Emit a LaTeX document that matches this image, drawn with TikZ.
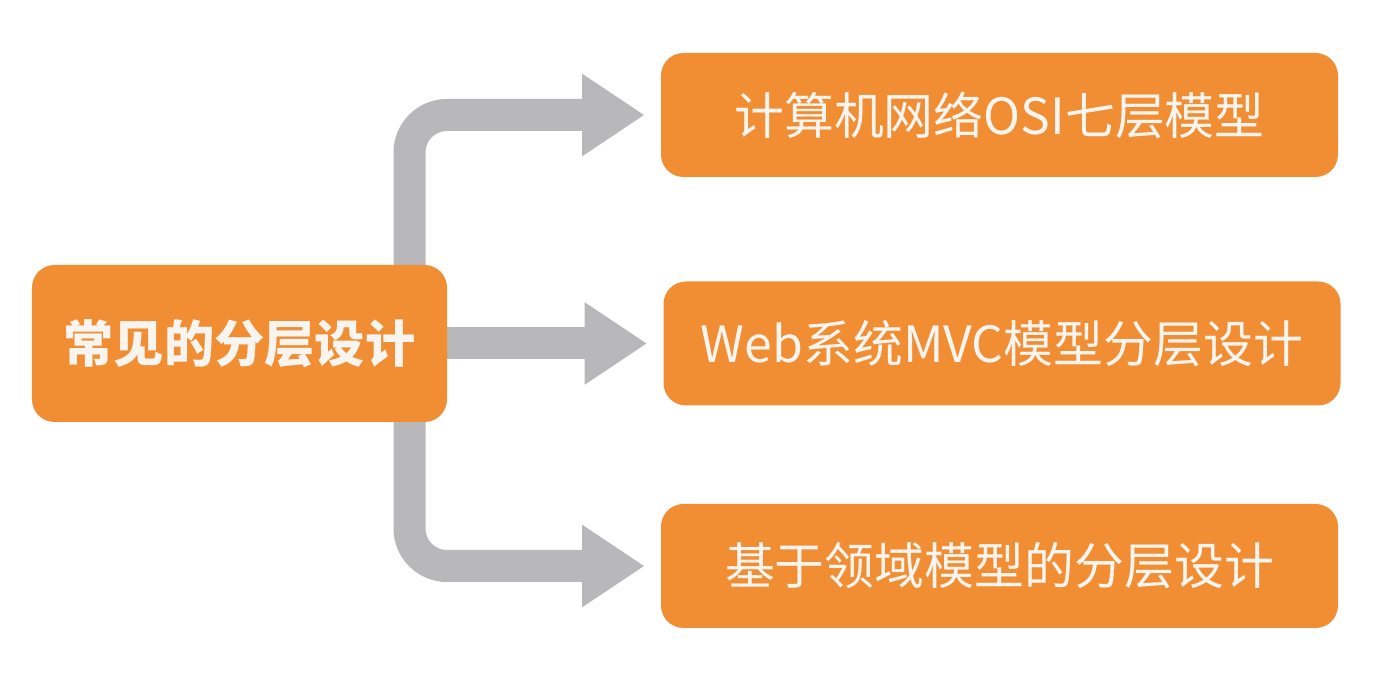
\documentclass[tikz,border=0pt]{standalone}
\usepackage{fontspec}
\usepackage{tikz}
\usetikzlibrary{arrows.meta,backgrounds}
\newfontfamily\cjk{Noto Sans CJK SC}
\definecolor{BoxOrange}{HTML}{F18D32}
\definecolor{ArrowGray}{HTML}{B8B7BA}
\definecolor{TextWhite}{HTML}{F8F4EF}
\tikzset{
  layerbox/.style={fill=BoxOrange,rounded corners=0.45cm,text=TextWhite,
    minimum width=13.54cm,minimum height=2.48cm,font=\cjk\fontsize{28.4}{32}\selectfont},
  rootbox/.style={layerbox,minimum width=8.3cm,minimum height=3.14cm,
    font=\cjk\bfseries\fontsize{28.6}{32}\selectfont},
  fatarrow/.style={draw=ArrowGray,line width=0.64cm,rounded corners=0.75cm,
    -{Triangle[length=1.25cm,width=1.56cm]},shorten >=0.32cm}
}
\begin{document}
\begin{tikzpicture}
\useasboundingbox (0,0) rectangle (27.82,13.48);
\node[rootbox] (root) at (4.79,6.61) {常见的分层设计};
\node[layerbox] (osi) at (19.99,11.18) {计算机网络OSI七层模型};
\node[layerbox] (mvc) at (20.04,6.61) {Web系统MVC模型分层设计};
\node[layerbox] (ddd) at (19.99,2.16) {基于领域模型的分层设计};
\begin{scope}[on background layer]
\draw[fatarrow] ([xshift=3.4cm]root.center) |- (osi.west);
\draw[fatarrow] (root.east) -- (mvc.west);
\draw[fatarrow] ([xshift=3.4cm]root.center) |- (ddd.west);
\end{scope}
\end{tikzpicture}
\end{document}
